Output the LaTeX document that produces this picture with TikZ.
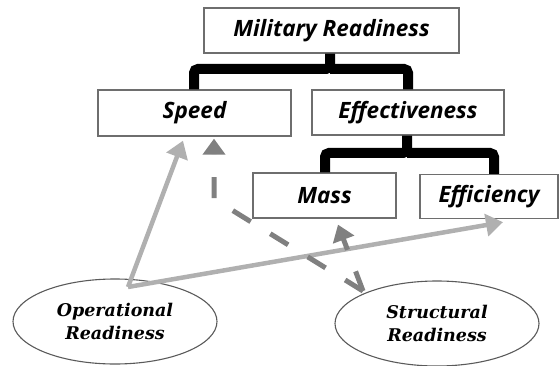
\documentclass[tikz,border=0pt]{standalone}
\usepackage{fontspec}
\usetikzlibrary{shapes.geometric,arrows.meta,calc}
\newfontfamily\boxfont{Open Sans}
\newfontfamily\ellfont{DejaVu Serif}
\definecolor{boxline}{HTML}{6E6E6E}
\definecolor{lightarrow}{HTML}{B0B0B0}
\definecolor{darkarrow}{HTML}{808080}
\definecolor{ellline}{HTML}{5A5A5A}
\begin{document}
\begin{tikzpicture}[x=1pt,y=-1pt,
  box/.style={draw=boxline,line width=1.3pt,rectangle,inner sep=0pt,
    font=\boxfont\bfseries\itshape\fontsize{22.5}{26}\selectfont},
  oval/.style={draw=ellline,line width=1.1pt,ellipse,inner sep=0pt,
    minimum width=204pt,minimum height=85pt,align=center,
    font=\ellfont\bfseries\itshape\fontsize{17.5}{23}\selectfont},
  bracket/.style={line width=10pt,black,rounded corners=4pt},
  solidarrow/.style={lightarrow,line width=4.5pt,
    -{Triangle[length=17pt,width=22pt]}},
  dasharrow/.style={darkarrow,line width=5pt,dash pattern=on 21pt off 23pt,
    -{Triangle[length=16pt,width=22pt]}}]
\useasboundingbox (0,0) rectangle (559,366);
% boxes
\node[box,minimum width=255pt,minimum height=45pt] (mil) at (331.5,30.5) {Military Readiness};
\node[box,minimum width=193pt,minimum height=46pt] (speed) at (194.5,113) {Speed};
\node[box,minimum width=192pt,minimum height=45pt] (eff) at (408,112.5) {Effectiveness};
\node[box,minimum width=143pt,minimum height=45pt] (mass) at (324.5,195.5) {Mass};
\node[box,minimum width=138pt,minimum height=44pt] (effic) at (489,196.5) {Efficiency};
% ellipses
\node[oval] (op) at (115,321.5) {Operational\\Readiness};
\node[oval] (st) at (437,323.5) {Structural\\Readiness};
% brackets
\draw[bracket] (mil.south -| 330,0) -- (330,69) -- (194,69) -- (speed.north -| 194,0);
\draw[bracket] (330,69) -- (408,69) -- (eff.north);
\draw[bracket] (eff.south -| 407,0) -- (407,153) -- (325,153) -- (mass.north -| 325,0);
\draw[bracket] (407,153) -- (494,153) -- (effic.north -| 494,0);
% arrow endpoints
\coordinate (opsrc) at (128,287);
\coordinate (stsrc) at (363,291);
\coordinate (bend) at (214,199);
% solid arrows
\draw[solidarrow] (opsrc) -- ($(speed.south)+(-11.5,4)$);
\draw[solidarrow] (opsrc) -- ($(effic.south)+(14,3)$);
% dashed arrows
\draw[dasharrow] (stsrc) -- ($(mass.south)+(13.5,6)$);
\draw[dasharrow] (stsrc) -- (bend) -- ($(speed.south)+(19.5,2)$);
\end{tikzpicture}
\end{document}
